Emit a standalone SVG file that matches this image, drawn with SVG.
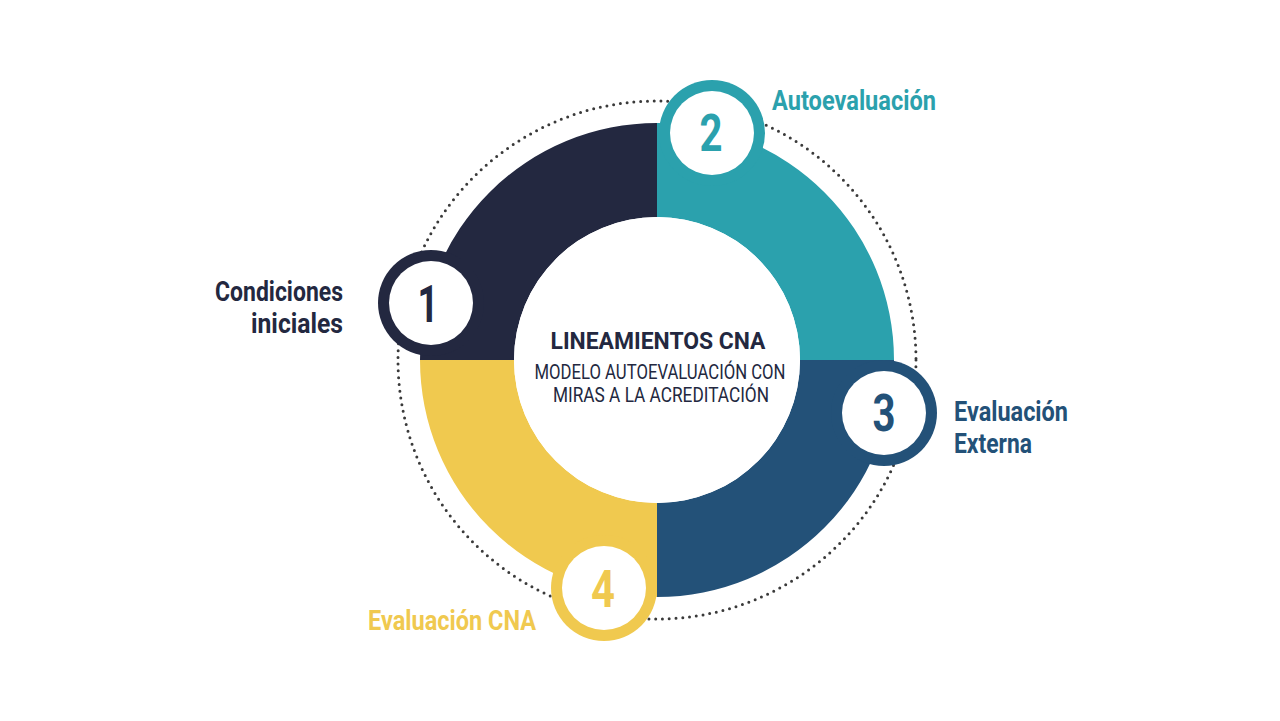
<svg xmlns="http://www.w3.org/2000/svg" width="1280" height="721" viewBox="0 0 1280 721">
  <style>
    .lbl { font-family: Roboto, "Liberation Sans", sans-serif; font-weight: bold; font-size: 28px; }
    .lbl2 { font-family: Roboto, "Liberation Sans", sans-serif; font-weight: bold; font-size: 27px; }
    .num { font-family: Roboto, "Liberation Sans", sans-serif; font-weight: bold; font-size: 52px; text-anchor: middle; }
    .title { font-family: Roboto, "Liberation Sans", sans-serif; font-weight: bold; font-size: 24px; fill: #232840; }
    .sub { font-family: Roboto, "Liberation Sans", sans-serif; font-size: 20px; fill: #232840; }
    .navy { fill: #232840; }
    .teal { fill: #2ba1ad; }
    .blue { fill: #235178; }
    .yellow { fill: #f0c94f; }
    .inner { fill: #ffffff; }
  </style>
  <rect width="1280" height="721" fill="#ffffff"/>
  <g id="connectors">
    <circle cx="657" cy="360" r="259" fill="none" stroke="#3a3a3a" stroke-width="3" stroke-linecap="round" stroke-dasharray="0 6.8"/>
  </g>
  <g id="ring">
    <path class="navy" d="M420 360 A237 237 0 0 1 657 123 L657 217 A143 143 0 0 0 514 360 Z"/>
    <path class="teal" d="M657 123 A237 237 0 0 1 894 360 L800 360 A143 143 0 0 0 657 217 Z"/>
    <path class="blue" d="M894 360 A237 237 0 0 1 657 597 L657 503 A143 143 0 0 0 800 360 Z"/>
    <path class="yellow" d="M657 597 A237 237 0 0 1 420 360 L514 360 A143 143 0 0 0 657 503 Z"/>
  </g>
  <g id="center">
    <circle cx="657" cy="360" r="143" fill="#ffffff"/>
    <text class="title" x="658" y="349" text-anchor="middle" textLength="215" lengthAdjust="spacingAndGlyphs">LINEAMIENTOS CNA</text>
    <text class="sub" x="660" y="379" text-anchor="middle" textLength="251" lengthAdjust="spacingAndGlyphs">MODELO AUTOEVALUACIÓN CON</text>
    <text class="sub" x="661" y="402" text-anchor="middle" textLength="216" lengthAdjust="spacingAndGlyphs">MIRAS A LA ACREDITACIÓN</text>
  </g>
  <g id="node-1">
    <circle class="navy" cx="431" cy="303" r="53"/>
    <circle class="inner" cx="431" cy="303" r="42"/>
    <text class="num navy" x="428" y="322" textLength="21" lengthAdjust="spacingAndGlyphs">1</text>
    <text class="lbl2 navy" x="343" y="301" text-anchor="end" textLength="128" lengthAdjust="spacingAndGlyphs">Condiciones</text>
    <text class="lbl2 navy" x="343" y="333" text-anchor="end" textLength="92" lengthAdjust="spacingAndGlyphs">iniciales</text>
  </g>
  <g id="node-2">
    <circle class="teal" cx="712" cy="133" r="53"/>
    <circle class="inner" cx="712" cy="133" r="42"/>
    <text class="num teal" x="711" y="151" textLength="23" lengthAdjust="spacingAndGlyphs">2</text>
    <text class="lbl teal" x="772" y="110" textLength="164" lengthAdjust="spacingAndGlyphs">Autoevaluación</text>
  </g>
  <g id="node-3">
    <circle class="blue" cx="884" cy="413" r="53"/>
    <circle class="inner" cx="884" cy="413" r="42"/>
    <text class="num blue" x="884" y="431" textLength="23" lengthAdjust="spacingAndGlyphs">3</text>
    <text class="lbl2 blue" x="954" y="421" textLength="114" lengthAdjust="spacingAndGlyphs">Evaluación</text>
    <text class="lbl2 blue" x="954" y="453" textLength="78" lengthAdjust="spacingAndGlyphs">Externa</text>
  </g>
  <g id="node-4">
    <circle class="yellow" cx="604" cy="588" r="53"/>
    <circle class="inner" cx="604" cy="588" r="42"/>
    <text class="num yellow" x="603" y="607" textLength="24" lengthAdjust="spacingAndGlyphs">4</text>
    <text class="lbl yellow" x="368" y="630" textLength="168" lengthAdjust="spacingAndGlyphs">Evaluación CNA</text>
  </g>
</svg>
